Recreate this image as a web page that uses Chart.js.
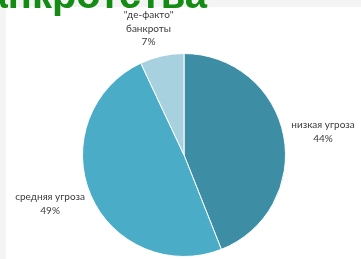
<!DOCTYPE html>
<html>
<head>
<meta charset="utf-8">
<script src="https://cdn.jsdelivr.net/npm/chart.js@4.4.1/dist/chart.umd.min.js"></script>
<style>
  html, body { margin: 0; padding: 0; background: #f4f4f4; }
  #wrap { position: relative; width: 361px; height: 259px; }
  canvas { display: block; }
</style>
</head>
<body>
<div id="wrap"><canvas id="pie" width="361" height="259"></canvas></div>
<script>
// categories and values (percent)
const labels = ['низкая угроза', 'средняя угроза', '"де-факто"\nбанкроты'];
const values = [44, 49, 7];
const colors = ['#3d8ea5', '#4aacc6', '#a7d1de'];
const title = 'банкротства';

// background: gray frame + white plot panel + cut-off green heading
const backdrop = {
    id: 'backdrop',
    beforeDraw(chart) {
        const c = chart.ctx;
        c.save();
        c.fillStyle = '#f4f4f4';
        c.fillRect(0, 0, chart.width, chart.height);
        c.fillStyle = '#ffffff';
        c.fillRect(6, 7, chart.width - 6, chart.height - 7);
        c.font = 'bold 40px "Liberation Sans", Arial, sans-serif';
        c.fillStyle = '#148c14';
        c.textAlign = 'right';
        c.textBaseline = 'alphabetic';
        c.fillText(title, 207, 8);
        c.restore();
    }
};

// outside labels: name + percent, pushed out along the slice middle
const outLabels = {
    id: 'outLabels',
    afterDatasetsDraw(chart) {
        const c = chart.ctx;
        const meta = chart.getDatasetMeta(0);
        const total = values.reduce((a, b) => a + b, 0);
        c.save();
        c.font = '10px Lato, "Open Sans", sans-serif';
        c.fillStyle = '#3a3a3a';
        c.textAlign = 'center';
        c.textBaseline = 'middle';
        const lh = 13.5;
        meta.data.forEach((arc, i) => {
            const lines = labels[i].split('\n');
            lines.push(Math.round(values[i] / total * 100) + '%');
            let w = 0;
            lines.forEach(l => { w = Math.max(w, c.measureText(l).width); });
            const h = lines.length * lh;
            const mid = (arc.startAngle + arc.endAngle) / 2;
            const cs = Math.cos(mid), sn = Math.sin(mid);
            const d = arc.outerRadius + 8;
            const bx = arc.x + cs * d + Math.sign(cs) * Math.sqrt(Math.abs(cs)) * w / 2;
            const by = arc.y + sn * d + sn * h / 2;
            lines.forEach((l, k) => {
                c.fillText(l, bx, by - h / 2 + lh / 2 + k * lh);
            });
        });
        c.restore();
    }
};

new Chart(document.getElementById('pie'), {
    type: 'pie',
    data: {
        labels: labels,
        datasets: [{
            data: values,
            backgroundColor: colors,
            borderColor: '#ffffff',
            borderWidth: 1
        }]
    },
    options: {
        responsive: false,
        animation: false,
        layout: { padding: { left: 82, right: 75, top: 53, bottom: 2 } },
        plugins: {
            legend: { display: false },
            tooltip: { enabled: false }
        }
    },
    plugins: [backdrop, outLabels]
});
</script>
</body>
</html>
